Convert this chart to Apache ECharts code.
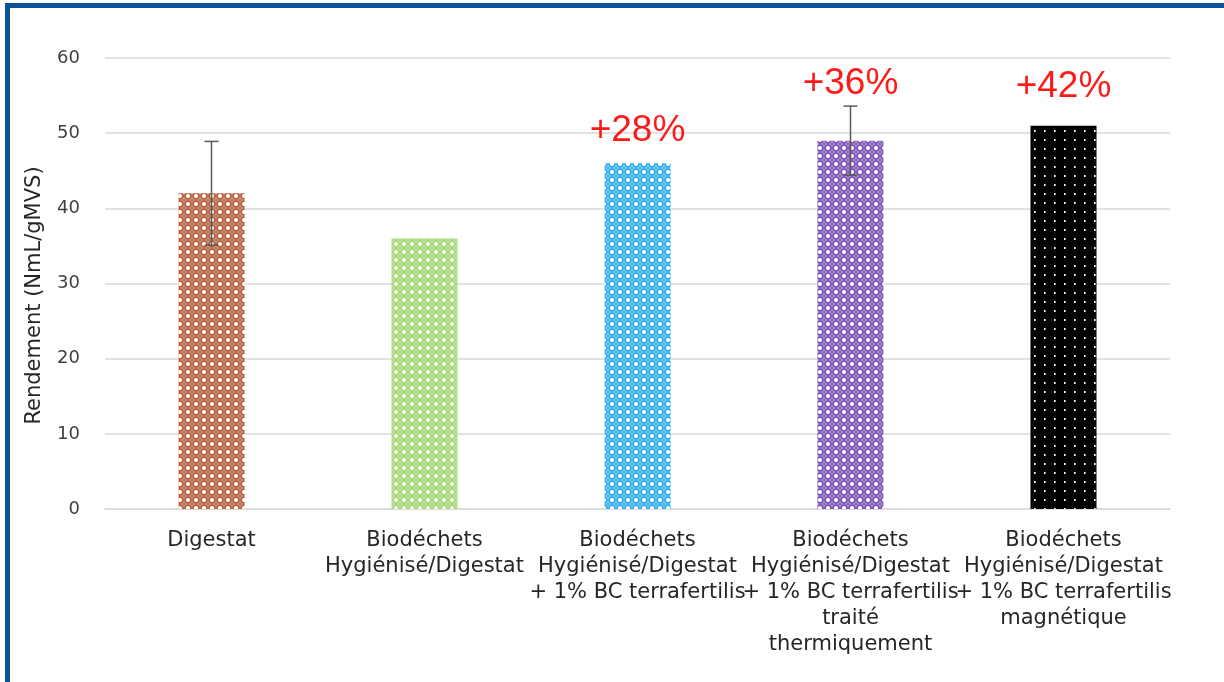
<!DOCTYPE html>
<html>
<head>
<meta charset="utf-8">
<script src="https://cdn.jsdelivr.net/npm/echarts@6/dist/echarts.min.js"></script>
<style>
  html, body { margin: 0; padding: 0; background: #fff; }
  #frame { position: absolute; left: 5px; top: 3px; width: 1219px; height: 679px;
           border-top: 5px solid #0b5296; border-left: 5px solid #0b5296; box-sizing: border-box; }
  #chart { position: absolute; left: 0; top: 0; width: 1224px; height: 682px; }
</style>
</head>
<body>
<div id="frame"></div>
<div id="chart"></div>
<script>
// Categories (x axis), mean yield and standard deviation per sample
const categories = [
  'Digestat',
  'Biodéchets\nHygiénisé/Digestat',
  'Biodéchets\nHygiénisé/Digestat\n+ 1% BC terrafertilis',
  'Biodéchets\nHygiénisé/Digestat\n+ 1% BC terrafertilis\ntraité\nthermiquement',
  'Biodéchets\nHygiénisé/Digestat\n+ 1% BC terrafertilis\nmagnétique'
];
const yieldValues = [42, 36, 46, 49, 51];
const yieldErrors = [6.9, null, null, 4.6, null];
const yTicks = [0, 10, 20, 30, 40, 50, 60];
const referenceIndex = 1;   // gains are stated relative to this sample
const gainShown = [false, false, true, true, true];

// Patterned fills
function latticePattern(color) {
  const c = document.createElement('canvas');
  c.width = 8; c.height = 8;
  const g = c.getContext('2d');
  g.fillStyle = '#ffffff';
  g.fillRect(0, 0, 8, 8);
  g.strokeStyle = color;
  g.lineWidth = 2;
  g.beginPath(); g.arc(4, 4, 3, 0, Math.PI * 2); g.stroke();
  g.fillStyle = color;
  [[0,0],[8,0],[0,8],[8,8]].forEach(([x, y]) => { g.beginPath(); g.arc(x, y, 1.6, 0, Math.PI * 2); g.fill(); });
  return { image: c, repeat: 'repeat' };
}
function dotPattern() {
  const c = document.createElement('canvas');
  c.width = 10; c.height = 9;
  const g = c.getContext('2d');
  g.fillStyle = '#000000';
  g.fillRect(0, 0, 10, 9);
  g.fillStyle = '#ffffff';
  g.fillRect(4, 4, 1.6, 2);
  return { image: c, repeat: 'repeat' };
}
const fills = [
  latticePattern('#b4623f'),
  latticePattern('#a4d873'),
  latticePattern('#35aeea'),
  latticePattern('#7d55b4'),
  dotPattern()
];
const labelDistance = [0, 0, 14, 38, 20];
const textFont = 'DejaVu Sans';

const barData = yieldValues.map((v, i) => {
  const item = { value: v, itemStyle: { color: fills[i] } };
  if (gainShown[i]) {
    const gain = Math.round((v / yieldValues[referenceIndex] - 1) * 100);
    item.label = {
      show: true, position: 'top', distance: labelDistance[i],
      formatter: '+' + gain + '%',
      color: '#ff1a1a', fontSize: 37, fontFamily: 'Liberation Sans'
    };
  }
  return item;
});

const errData = yieldValues.map((v, i) =>
  yieldErrors[i] == null ? null : [i, v - yieldErrors[i], v + yieldErrors[i]]
).filter(d => d);

const chart = echarts.init(document.getElementById('chart'));
chart.setOption({
  animation: false,
  grid: { left: 105, right: 54, top: 58, bottom: 173 },
  xAxis: {
    type: 'category',
    data: categories,
    axisLine: { lineStyle: { color: '#d9d9d9', width: 1.5 } },
    axisTick: { show: false },
    axisLabel: {
      interval: 0, margin: 19, color: '#262626',
      fontSize: 21, lineHeight: 26, fontFamily: textFont
    }
  },
  yAxis: {
    type: 'value', min: yTicks[0], max: yTicks[yTicks.length - 1], interval: 10,
    name: 'Rendement (NmL/gMVS)', nameLocation: 'middle', nameGap: 60,
    nameTextStyle: { fontSize: 21, color: '#262626', fontFamily: textFont, padding: [0, 24, 0, 0] },
    axisLine: { show: false },
    axisTick: { show: false },
    axisLabel: { margin: 25, fontSize: 18, color: '#404040', fontFamily: textFont },
    splitLine: { lineStyle: { color: '#d9d9d9', width: 1.5 } }
  },
  series: [
    {
      type: 'bar',
      data: barData,
      barWidth: '31%'
    },
    {
      type: 'custom',
      data: errData,
      z: 5,
      renderItem(params, api) {
        const x = api.value(0);
        const lo = api.coord([x, api.value(1)]);
        const hi = api.coord([x, api.value(2)]);
        const cap = 7;
        const style = { stroke: '#5a5a5a', lineWidth: 1.5 };
        return {
          type: 'group',
          children: [
            { type: 'line', shape: { x1: hi[0], y1: hi[1], x2: lo[0], y2: lo[1] }, style },
            { type: 'line', shape: { x1: hi[0] - cap, y1: hi[1], x2: hi[0] + cap, y2: hi[1] }, style },
            { type: 'line', shape: { x1: lo[0] - cap, y1: lo[1], x2: lo[0] + cap, y2: lo[1] }, style }
          ]
        };
      }
    }
  ]
});
</script>
</body>
</html>
